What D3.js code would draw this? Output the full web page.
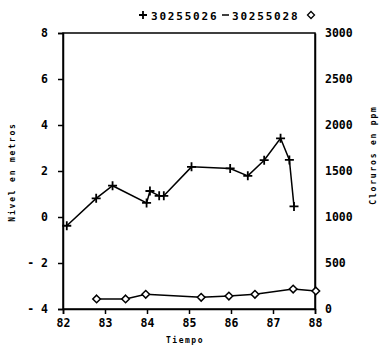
<!DOCTYPE html>
<html>
<head>
<meta charset="utf-8">
<script src="https://cdn.jsdelivr.net/npm/d3@7"></script>
<style>
  html, body { margin: 0; padding: 0; background: #fff; }
  svg { display: block; }
  text { font-family: "DejaVu Sans Mono", monospace; font-weight: bold; fill: #000; }
</style>
</head>
<body>
<script>
// Well 30255026: water level (m), left axis
const nivelYears  = [82.09, 82.79, 83.18, 83.99, 84.07, 84.29, 84.40, 85.06, 85.98, 86.40, 86.79, 87.18, 87.39, 87.50];
const nivelValues = [-0.38, 0.81, 1.36, 0.61, 1.13, 0.92, 0.92, 2.18, 2.11, 1.79, 2.47, 3.42, 2.48, 0.46];

// Well 30255028: chlorides (ppm), right axis
const clorYears  = [82.80, 83.49, 83.97, 85.29, 85.95, 86.57, 87.48, 88.02];
const clorValues = [109, 109, 160, 127, 141, 160, 217, 196];

// Axis ticks
const xTicks      = [82, 83, 84, 85, 86, 87, 88];
const leftTicks   = [-4, -2, 0, 2, 4, 6, 8];
const rightTicks  = [0, 500, 1000, 1500, 2000, 2500, 3000];

const W = 382, H = 347;
const m = { top: 33, right: 67, bottom: 38, left: 63 };

const svg = d3.select("body").append("svg").attr("width", W).attr("height", H);

const x  = d3.scaleLinear().domain([82, 88]).range([m.left, W - m.right]);
const yL = d3.scaleLinear().domain([-4, 8]).range([H - m.bottom, m.top]);
const yR = d3.scaleLinear().domain([0, 3000]).range([H - m.bottom, m.top]);

// Frame
svg.append("rect")
  .attr("x", m.left).attr("y", m.top)
  .attr("width", W - m.left - m.right).attr("height", H - m.top - m.bottom)
  .attr("fill", "none").attr("stroke", "#000").attr("stroke-width", 1.5);

// Bottom axis
const gx = svg.append("g").attr("transform", `translate(0,${H - m.bottom})`)
  .call(d3.axisBottom(x).tickValues(xTicks).tickSize(5).tickPadding(5).tickFormat(d3.format("d")));
gx.select(".domain").attr("stroke-width", 1.5);
gx.selectAll(".tick line").attr("stroke-width", 1.5);
gx.selectAll("text").attr("font-size", 11.5);

// Left axis
const gl = svg.append("g").attr("transform", `translate(${m.left},0)`)
  .call(d3.axisLeft(yL).tickValues(leftTicks).tickSize(5).tickPadding(10).tickFormat(d => d < 0 ? "- " + (-d) : d));
gl.select(".domain").attr("stroke-width", 1.5);
gl.selectAll(".tick line").attr("stroke-width", 1.5);
gl.selectAll("text").attr("font-size", 11.5);

// Right axis
const gr = svg.append("g").attr("transform", `translate(${W - m.right},0)`)
  .call(d3.axisRight(yR).tickValues(rightTicks).tickSize(0).tickPadding(10).tickFormat(d3.format("d")));
gr.select(".domain").attr("stroke-width", 1.5);
gr.selectAll("text").attr("font-size", 11.5);

// Axis titles
svg.append("text").attr("x", 185).attr("y", 343)
  .attr("text-anchor", "middle").attr("font-size", 8).attr("letter-spacing", 1.5)
  .text("Tiempo");
svg.append("text").attr("transform", "translate(15,172) rotate(-90)")
  .attr("text-anchor", "middle").attr("font-size", 8).attr("letter-spacing", 1.8)
  .text("Nivel en metros");
svg.append("text").attr("transform", "translate(376,155) rotate(-90)")
  .attr("text-anchor", "middle").attr("font-size", 8).attr("letter-spacing", 1.8)
  .text("Cloruros en ppm");

// Level series
const lineL = d3.line().x((d, i) => x(nivelYears[i])).y(d => yL(d));
svg.append("path").datum(nivelValues).attr("d", lineL)
  .attr("fill", "none").attr("stroke", "#000").attr("stroke-width", 1.5);
svg.append("g").selectAll("path").data(nivelValues).join("path")
  .attr("transform", (d, i) => `translate(${x(nivelYears[i])},${yL(d)})`)
  .attr("d", "M-4.5,0H4.5M0,-4.5V4.5")
  .attr("stroke", "#000").attr("stroke-width", 1.8);

// Chloride series
const lineR = d3.line().x((d, i) => x(clorYears[i])).y(d => yR(d));
svg.append("path").datum(clorValues).attr("d", lineR)
  .attr("fill", "none").attr("stroke", "#000").attr("stroke-width", 1.5);
svg.append("g").selectAll("path").data(clorValues).join("path")
  .attr("transform", (d, i) => `translate(${x(clorYears[i])},${yR(d)})`)
  .attr("d", "M0,-3.8L3.8,0L0,3.8L-3.8,0Z")
  .attr("fill", "#fff").attr("stroke", "#000").attr("stroke-width", 1.5);

// Legend
const leg = svg.append("g");
leg.append("path").attr("d", "M139,15H147M143,11V19").attr("stroke", "#000").attr("stroke-width", 1.8);
leg.append("text").attr("x", 151).attr("y", 19.5).attr("font-size", 11).attr("letter-spacing", 1.8).text("30255026");
leg.append("path").attr("d", "M222,15H229").attr("stroke", "#000").attr("stroke-width", 1.5);
leg.append("text").attr("x", 232).attr("y", 19.5).attr("font-size", 11).attr("letter-spacing", 1.8).text("30255028");
leg.append("path").attr("d", "M311,11.5L314.5,15L311,18.5L307.5,15Z")
  .attr("fill", "#fff").attr("stroke", "#000").attr("stroke-width", 1.3);
</script>
</body>
</html>
